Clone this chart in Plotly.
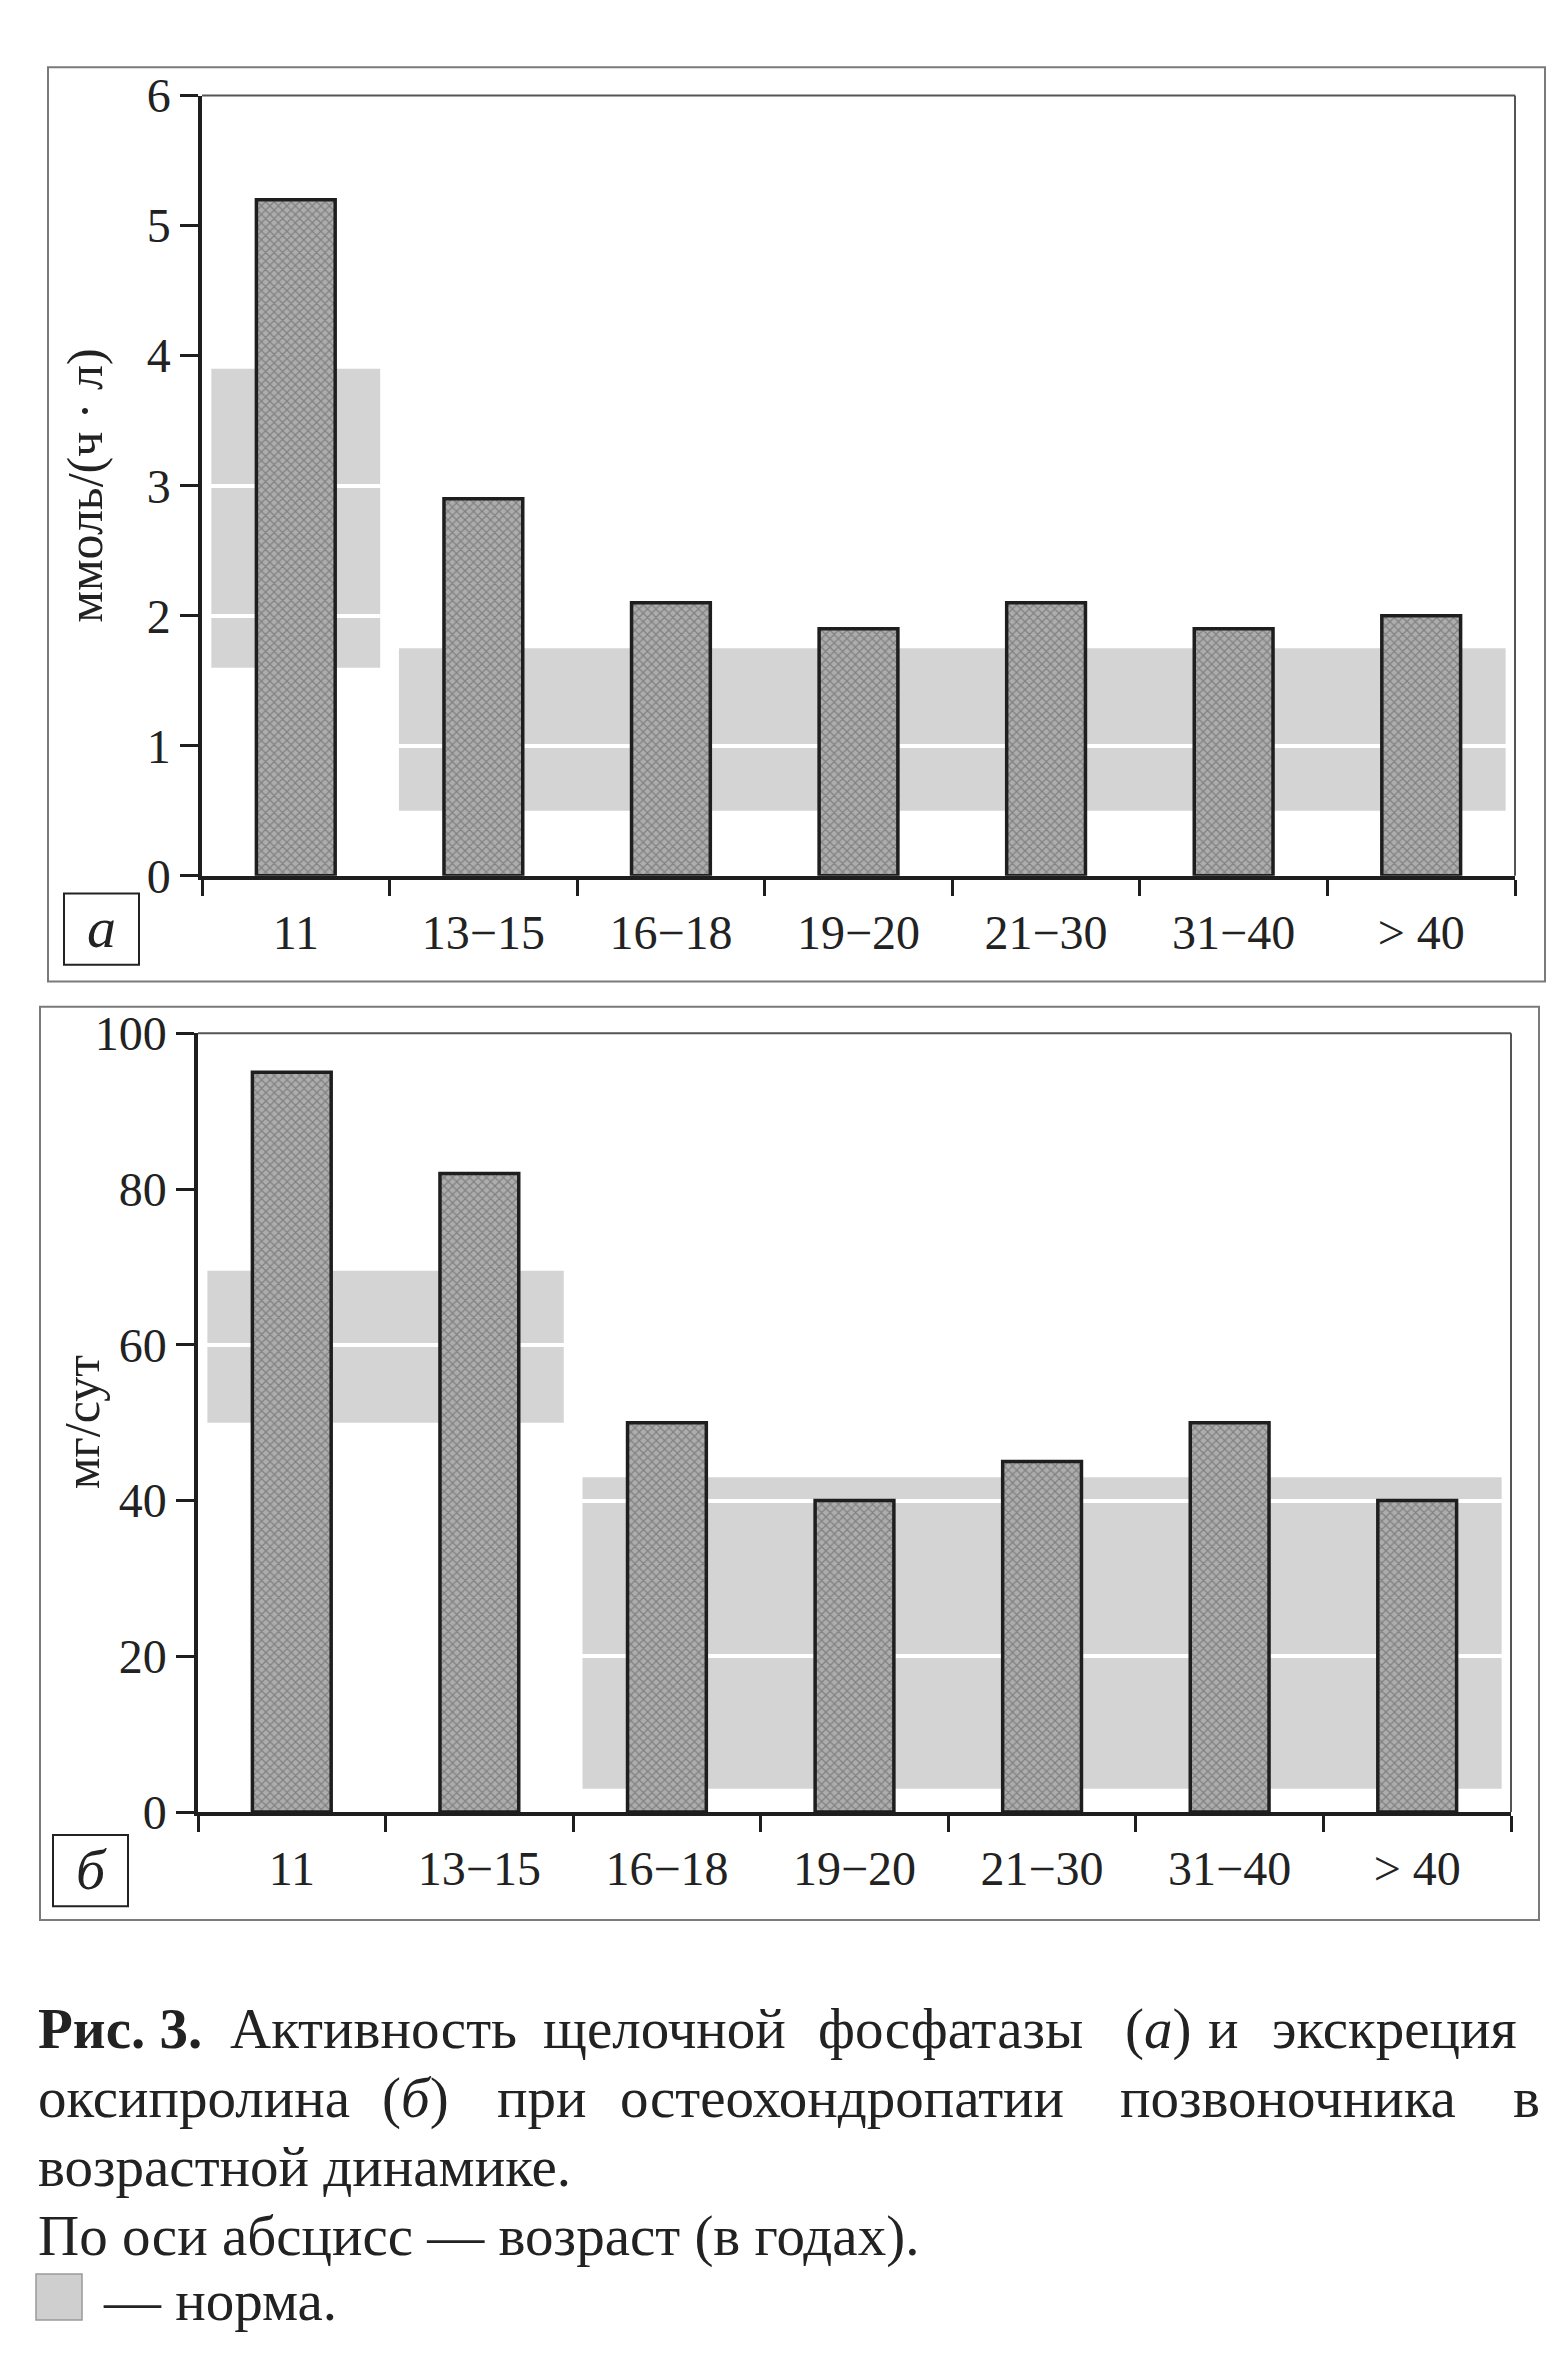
import plotly.graph_objects as go

# ---------------- data ----------------
age_groups = ["11", "13−15", "16−18", "19−20", "21−30", "31−40", "> 40"]
alk_phosphatase = [5.2, 2.9, 2.1, 1.9, 2.1, 1.9, 2.0]          # ммоль/(ч·л)
hydroxyproline = [95, 82, 50, 40, 45, 50, 40]                  # мг/сут

# norm ranges: (first category index, last category index, low, high)
norm_a_first = [0, 1]
norm_a_last = [0, 6]
norm_a_low = [1.6, 0.5]
norm_a_high = [3.9, 1.75]

norm_b_first = [0, 2]
norm_b_last = [1, 6]
norm_b_low = [50, 3]
norm_b_high = [69.5, 43]

y_ticks_a = [0, 1, 2, 3, 4, 5, 6]
y_ticks_b = [0, 20, 40, 60, 80, 100]

# ---------------- layout helpers ----------------
W, H = 1562, 2379
def fx(p):
    return p / W
def fy(p):
    return 1 - p / H

SERIF = "Liberation Serif"
TXT = "#222222"

fig = go.Figure()

bar_style = dict(
    marker=dict(
        color="#9a9a9a",
        line=dict(color="#1e1e1e", width=3.5),
        pattern=dict(shape="x", fgcolor="#555555", bgcolor="#adadad", size=6, solidity=0.38),
    ),
    width=0.42,
    showlegend=False,
    hoverinfo="x+y",
)

fig.add_trace(go.Bar(x=age_groups, y=alk_phosphatase, xaxis="x", yaxis="y", **bar_style))
fig.add_trace(go.Bar(x=age_groups, y=hydroxyproline, xaxis="x2", yaxis="y2", **bar_style))

shapes = []
BAND = "#d4d4d4"
for f, l, lo, hi in zip(norm_a_first, norm_a_last, norm_a_low, norm_a_high):
    shapes.append(dict(type="rect", xref="x", yref="y", x0=f - 0.45, x1=l + 0.45, y0=lo, y1=hi,
                       fillcolor=BAND, line=dict(width=0), layer="below"))
for f, l, lo, hi in zip(norm_b_first, norm_b_last, norm_b_low, norm_b_high):
    shapes.append(dict(type="rect", xref="x2", yref="y2", x0=f - 0.45, x1=l + 0.45, y0=lo, y1=hi,
                       fillcolor=BAND, line=dict(width=0), layer="below"))

# plot-area top/right borders (thin gray)
for xr, yr in (("x", "y"), ("x2", "y2")):
    shapes.append(dict(type="line", xref=f"{xr} domain", yref=f"{yr} domain", x0=0, x1=1, y0=1, y1=1,
                       line=dict(color="#555555", width=2)))
    shapes.append(dict(type="line", xref=f"{xr} domain", yref=f"{yr} domain", x0=1, x1=1, y0=0, y1=1,
                       line=dict(color="#555555", width=2)))

# outer panel frames
for x0, x1, y0, y1 in ((40, 1537, 34, 969), (32, 1531, 995, 1929)):
    shapes.append(dict(type="rect", xref="paper", yref="paper", x0=fx(x0), x1=fx(x1), y0=fy(y1), y1=fy(y0),
                       line=dict(color="#7a7a7a", width=2), fillcolor="rgba(0,0,0,0)"))

# panel label boxes
for x0, x1, y0, y1 in ((56, 131, 879, 952), (45, 120, 1842, 1915)):
    shapes.append(dict(type="rect", xref="paper", yref="paper", x0=fx(x0), x1=fx(x1), y0=fy(y1), y1=fy(y0),
                       line=dict(color="#222222", width=2), fillcolor="rgba(0,0,0,0)"))

# legend swatch
shapes.append(dict(type="rect", xref="paper", yref="paper", x0=fx(28), x1=fx(74), y0=fy(2338), y1=fy(2291),
                   line=dict(color="#9a9a9a", width=1.5), fillcolor="#cfcfcf"))

annotations = []
def note(txt, x, y, size, angle=0, xanchor="center", yanchor="middle"):
    annotations.append(dict(text=txt, x=fx(x), y=fy(y), xref="paper", yref="paper",
                            xanchor=xanchor, yanchor=yanchor, textangle=angle, showarrow=False,
                            font=dict(family=SERIF, size=size, color=TXT)))

# y-axis titles
note("ммоль/(ч · л)", 77, 462, 50, angle=-90)
note("мг/сут", 74, 1420, 50, angle=-90)
# panel letters
note("<i>а</i>", 93, 914, 58)
note("<i>б</i>", 83, 1877, 58)

CAP = 57
line1 = [("<b>Рис. 3.</b>", 28), ("Активность", 220), ("щелочной", 533), ("фосфатазы", 808),
         ("(<i>а</i>)", 1115), ("и", 1198), ("экскреция", 1262)]
line2 = [("оксипролина", 28), ("(<i>б</i>)", 372), ("при", 487), ("остеохондропатии", 610),
         ("позвоночника", 1110), ("в", 1503)]
for t, x in line1:
    note(t, x, 2040, CAP, xanchor="left")
for t, x in line2:
    note(t, x, 2111, CAP, xanchor="left")
note("возрастной динамике.", 28, 2181, CAP, xanchor="left")
note("По оси абсцисс — возраст (в годах).", 28, 2252, CAP, xanchor="left")
note("— норма.", 93, 2318, CAP, xanchor="left")

xaxis_common = dict(
    type="category", categoryorder="array", categoryarray=age_groups, range=[-0.5, 6.5],
    tickson="boundaries", ticks="outside", ticklen=16, tickwidth=3, tickcolor="#1e1e1e",
    showline=True, linecolor="#1e1e1e", linewidth=3.5, showgrid=False, zeroline=False,
    tickfont=dict(family=SERIF, size=48, color=TXT), ticklabelstandoff=12, fixedrange=True,
)
yaxis_common = dict(
    ticks="outside", ticklen=18, tickwidth=3, tickcolor="#1e1e1e",
    showline=True, linecolor="#1e1e1e", linewidth=3.5, showgrid=True, gridcolor="#ffffff",
    gridwidth=4, zeroline=False, tickfont=dict(family=SERIF, size=48, color=TXT), fixedrange=True,
)

fig.update_layout(
    width=W, height=H,
    margin=dict(l=0, r=0, t=0, b=0),
    paper_bgcolor="white", plot_bgcolor="white",
    showlegend=False,
    xaxis=dict(domain=[fx(194), fx(1507)], anchor="y", **xaxis_common),
    yaxis=dict(domain=[fy(861), fy(63)], anchor="x", range=[0, 6], tickvals=y_ticks_a, **yaxis_common),
    xaxis2=dict(domain=[fx(190), fx(1503)], anchor="y2", **xaxis_common),
    yaxis2=dict(domain=[fy(1818.6), fy(1022)], anchor="x2", range=[0, 100], tickvals=y_ticks_b, **yaxis_common),
    shapes=shapes,
    annotations=annotations,
    barmode="overlay",
)

fig.write_html("out.html")
